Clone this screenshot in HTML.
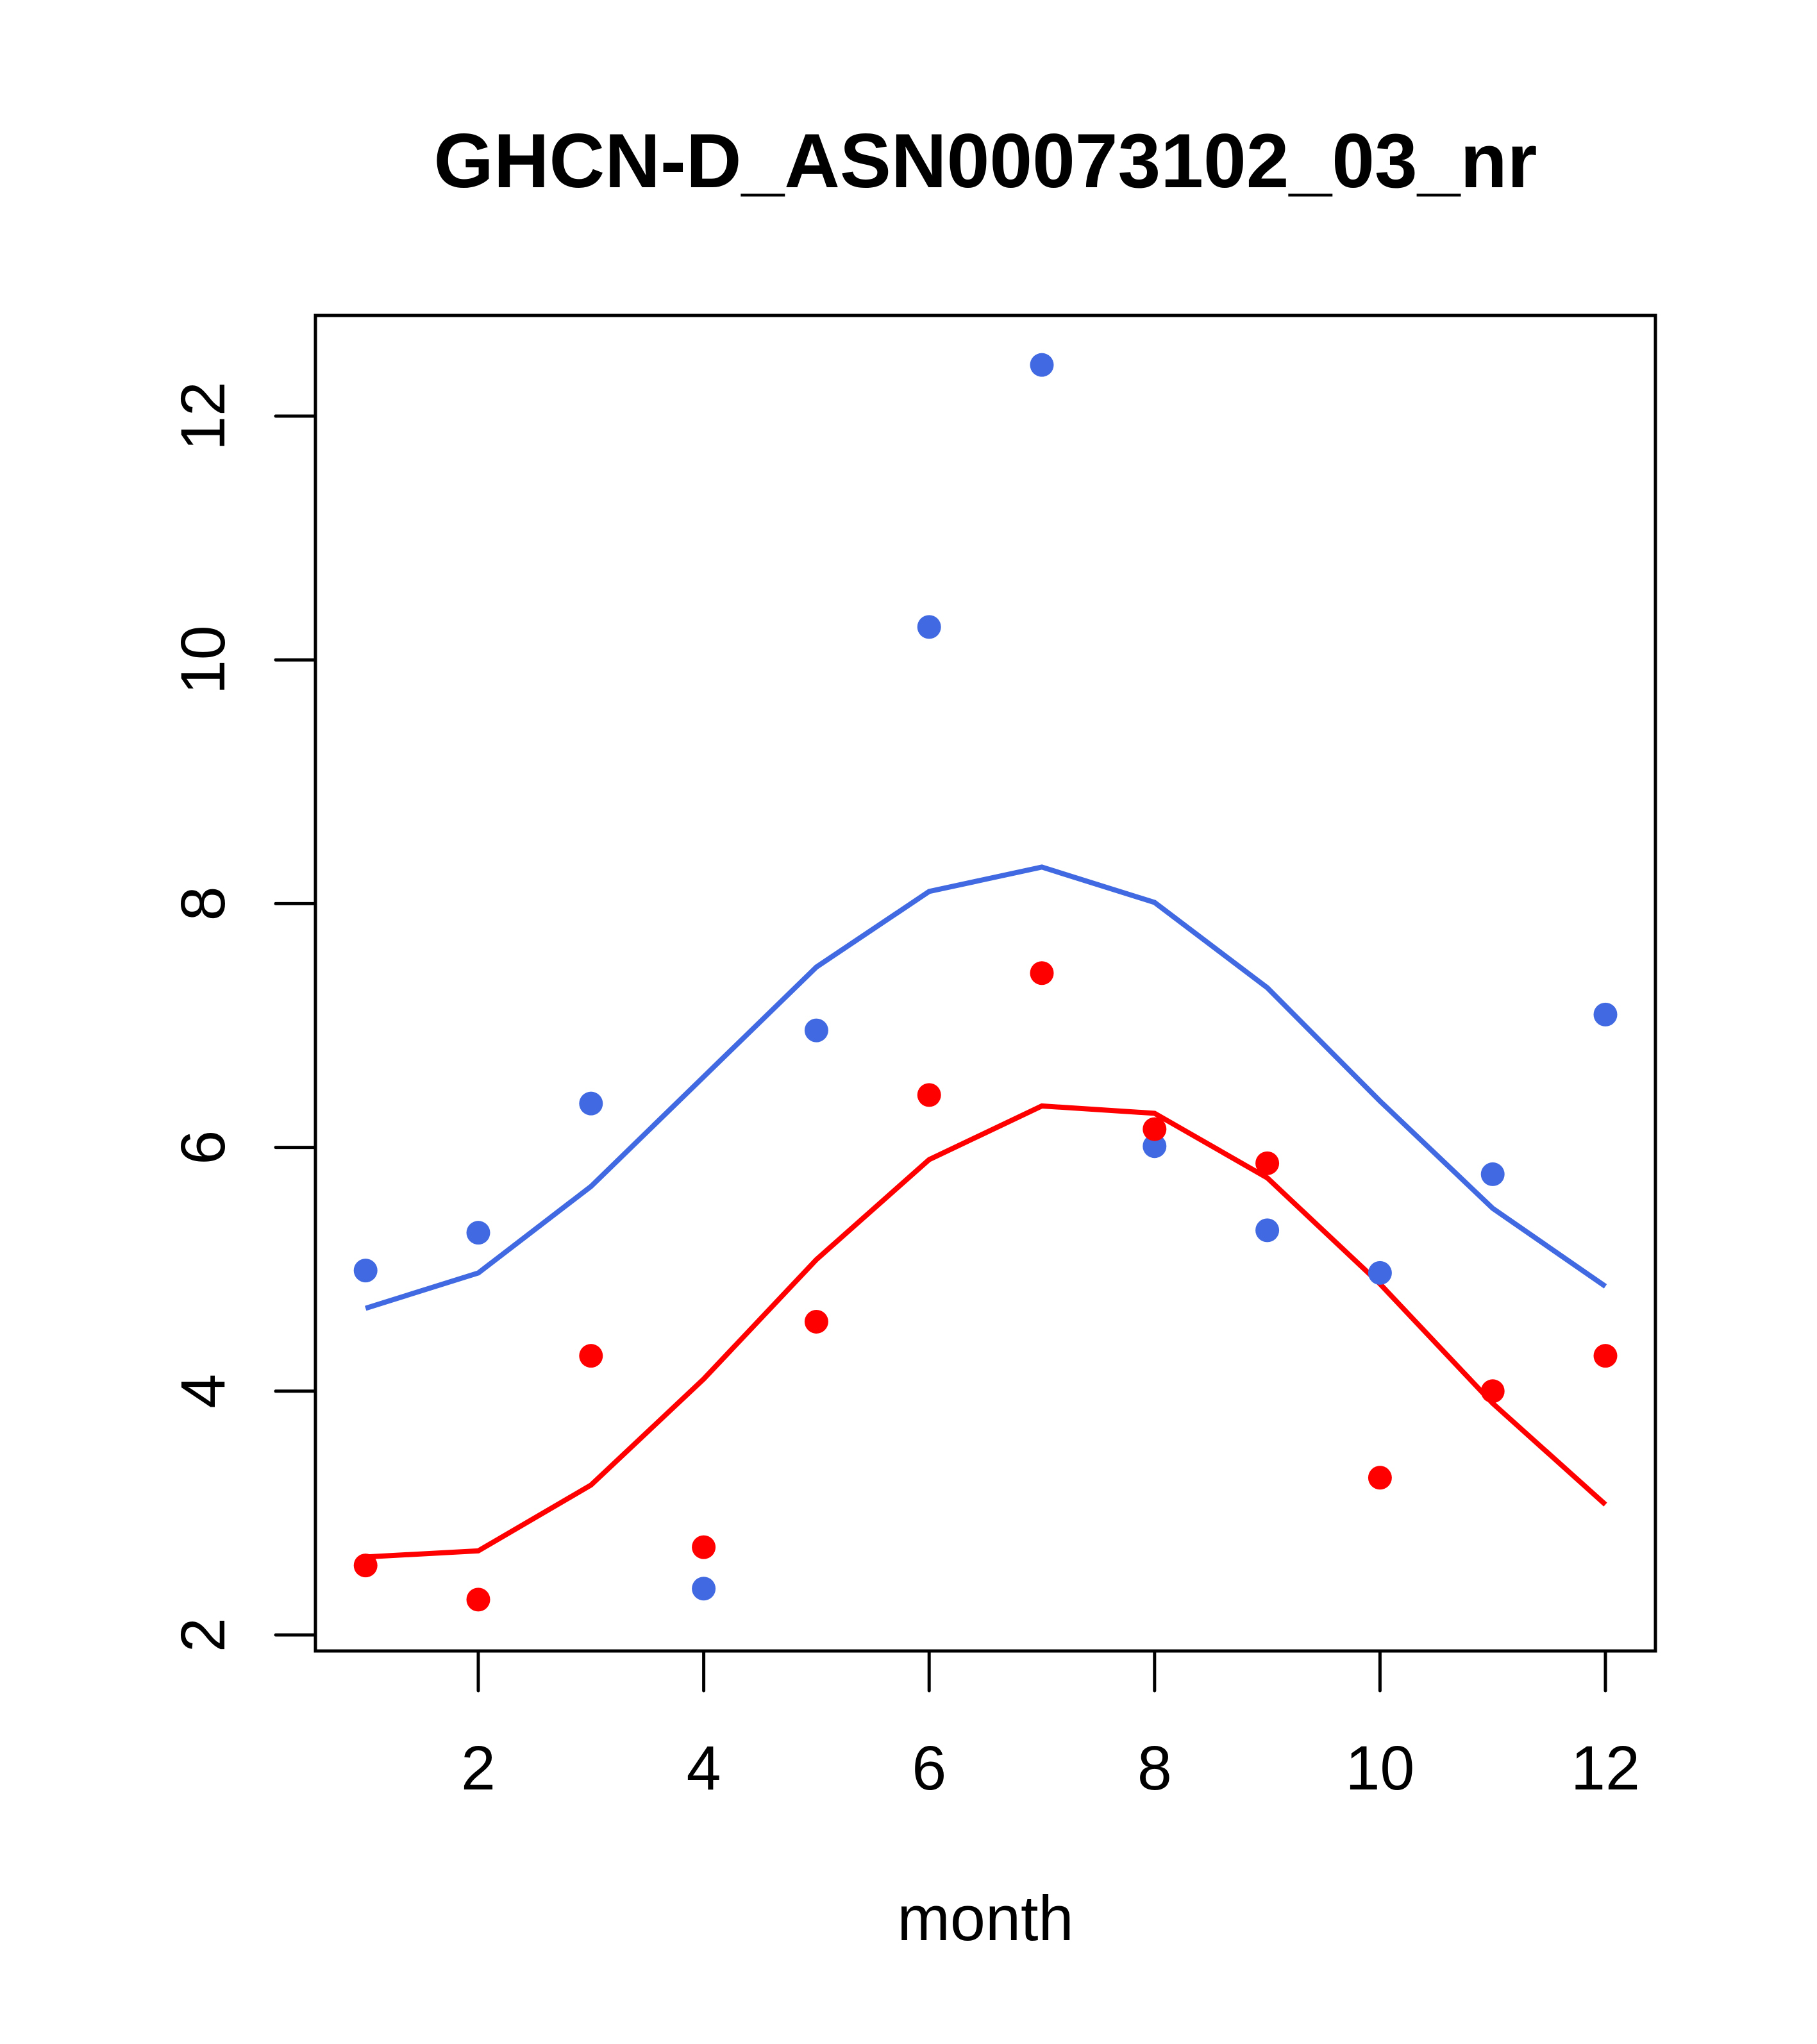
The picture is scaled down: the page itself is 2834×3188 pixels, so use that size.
<!DOCTYPE html>
<html><head><meta charset="utf-8"><style>body{margin:0;background:#fff}svg{display:block}text{font-family:"Liberation Sans",sans-serif}</style></head>
<body>
<svg id="chart" width="2834" height="3188" viewBox="0 0 2834 3188" xmlns="http://www.w3.org/2000/svg">
<rect width="2834" height="3188" fill="#fff"/>
<text x="1537" y="292" font-size="120" font-weight="bold" text-anchor="middle">GHCN-D_ASN00073102_03_nr</text>
<text x="1537" y="3026" font-size="99" text-anchor="middle">month</text>
<g id="axes"></g>
<g id="marks"></g>
<rect x="492" y="492" width="2090" height="2083" fill="none" stroke="#000" stroke-width="5"/>
</svg>
<script>
const months=[1,2,3,4,5,6,7,8,9,10,11,12];
const bluePoints=[4.99,5.30,6.36,2.38,6.96,10.27,12.42,6.01,5.32,4.97,5.78,7.09];
const redPoints=[2.57,2.29,4.29,2.72,4.57,6.43,7.43,6.15,5.87,3.29,4.00,4.29];
const blueLine=[4.68,4.97,5.68,6.58,7.48,8.10,8.30,8.01,7.31,6.38,5.50,4.86];
const redLine=[2.64,2.69,3.23,4.10,5.08,5.90,6.34,6.28,5.75,4.88,3.90,3.07];
const xTicks=[2,4,6,8,10,12];
const yTicks=[2,4,6,8,10,12];
const NS="http://www.w3.org/2000/svg";
function X(v){return 746+(v-2)*175.8;}
function Y(v){return 2550-(v-2)*190.1;}
function mk(tag,attrs,parent){const e=document.createElementNS(NS,tag);for(const k in attrs)e.setAttribute(k,attrs[k]);parent.appendChild(e);return e;}
const axes=document.getElementById('axes'),marks=document.getElementById('marks');
mk('line',{x1:X(2),x2:X(12),y1:2575,y2:2575,stroke:'#000','stroke-width':5},axes);
mk('line',{x1:492,x2:492,y1:Y(2),y2:Y(12),stroke:'#000','stroke-width':5},axes);
xTicks.forEach(t=>{
 const l=mk('line',{x1:X(t),x2:X(t),y1:2575,y2:2637,stroke:'#000','stroke-width':5,'stroke-linecap':'round'},axes);
 
 
 const tx=mk('text',{x:X(t),y:2791,'font-size':97,'text-anchor':'middle'},axes);tx.textContent=t;
 
 
});
yTicks.forEach(t=>{
 const l=mk('line',{x1:430,x2:492,y1:Y(t),y2:Y(t),stroke:'#000','stroke-width':5,'stroke-linecap':'round'},axes);
 
 
 const tx=mk('text',{x:0,y:0,'font-size':97,'text-anchor':'middle',transform:`translate(350,${Y(t)}) rotate(-90)`},axes);tx.textContent=t;
 
 
});
function line(vals,color,name){
 const p=mk('polyline',{points:months.map((m,i)=>X(m)+','+Y(vals[i])).join(' '),fill:'none',stroke:color,'stroke-width':8},marks);
 
 
}
function pts(vals,color,name){
 months.forEach((m,i)=>{
  const c=mk('circle',{cx:X(m),cy:Y(vals[i]),r:18.5,fill:color},marks);
  
  
 });
}
line(blueLine,'#4169E1','blue-line');
line(redLine,'#FF0000','red-line');
pts(bluePoints,'#4169E1','blue-point');
pts(redPoints,'#FF0000','red-point');
</script>
</body></html>
